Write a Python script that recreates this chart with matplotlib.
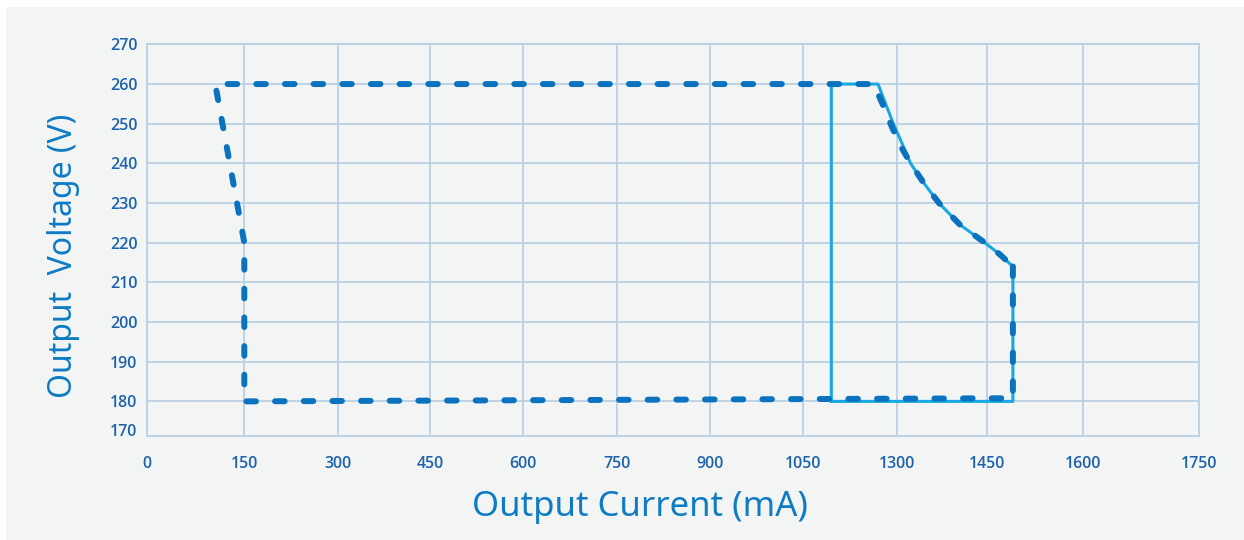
import matplotlib
matplotlib.use("Agg")
import matplotlib.pyplot as plt
import numpy as np
from matplotlib.patches import Rectangle

# Tick values on the (non-uniform) current axis
x_ticks = [0, 150, 300, 450, 600, 750, 900, 1050, 1300, 1450, 1600, 1750]
y_ticks = [180, 190, 200, 210, 220, 230, 240, 250, 260, 270]

# Dashed envelope (mA, V)
dash_current = [1490, 1490, 150, 150, 105, 1238, 1262, 1288, 1308, 1323, 1345, 1370, 1405, 1446, 1470, 1490]
dash_voltage = [214, 180.8, 180, 220, 260, 260, 255, 249, 244, 240, 235, 230, 224.5, 220, 217, 214]

# Solid rated-area outline (mA, V)
solid_current = [1125, 1125, 1250, 1291, 1309, 1323, 1345, 1370, 1405, 1446, 1470, 1490, 1490, 1125]
solid_voltage = [180, 260, 260, 250, 245, 240, 235, 230, 224.5, 220, 217, 214, 180, 180]

# pixel spacing of the tick marks as drawn in the original
tick_px = [147.3, 244.3, 337.7, 430, 523.3, 616.7, 710, 803.3, 896.7, 987.3, 1083.3, 1199.3]

GRID = "#bad0e3"
TICK = "#1d62ad"
LABEL = "#0e7bc4"
DASH = "#0a72bf"
SOLID = "#1aa8e0"

plt.rcParams["font.family"] = ["Noto Sans", "DejaVu Sans"]
TICK_FONT = ["Open Sans", "Noto Sans", "DejaVu Sans"]

fig = plt.figure(figsize=(12.44, 5.40), dpi=100)
fig.patch.set_facecolor("white")
fig.patches.append(Rectangle((6 / 1244, 0.0), 1 - 6 / 1244, 1 - 7 / 540,
                             transform=fig.transFigure, facecolor="#f3f5f5",
                             edgecolor="none", zorder=-10))

ax = fig.add_axes([147.3 / 1244, 1 - 435.5 / 540, (1199.3 - 147.3) / 1244, (435.5 - 44) / 540])
ax.set_facecolor("#f3f5f5")


def fwd(v):
    return np.interp(v, x_ticks, tick_px)


def inv(p):
    return np.interp(p, tick_px, x_ticks)


ax.set_xscale("function", functions=(fwd, inv))
ax.set_xlim(0, 1750)
ax.set_ylim(171.4, 270.1)

ax.plot(solid_current, solid_voltage, color=SOLID, lw=2.2, zorder=3,
        solid_joinstyle="round")
ax.plot(dash_current, dash_voltage, color=DASH, lw=4.3, zorder=4,
        dashes=(1.6, 3.2), dash_capstyle="round", solid_joinstyle="round")

ax.set_xticks(x_ticks)
ax.set_xticklabels([str(t) for t in x_ticks], fontweight="semibold", family=TICK_FONT)
ax.set_yticks([172.8] + y_ticks)
ax.set_yticklabels(["170"] + [str(t) for t in y_ticks], fontweight="semibold", family=TICK_FONT)
ax.grid(True, color=GRID, lw=1.3, zorder=1)
ax.yaxis.get_gridlines()[0].set_visible(False)
ax.set_axisbelow(True)

ax.tick_params(axis="both", length=0, labelsize=11.5, labelcolor=TICK)
ax.tick_params(axis="x", pad=15)
ax.tick_params(axis="y", pad=7)

for sp in ax.spines.values():
    sp.set_color(GRID)
    sp.set_linewidth(1.3)

fig.text(640 / 1244, 1 - 507 / 540, "Output Current (mA)", ha="center", va="center",
         fontsize=25, color=LABEL)
fig.text(64 / 1244, 1 - 256 / 540, "Output  Voltage (V)", ha="center", va="center",
         rotation=90, fontsize=23, color=LABEL)

fig.savefig("out.png", dpi=100, facecolor=fig.get_facecolor())
